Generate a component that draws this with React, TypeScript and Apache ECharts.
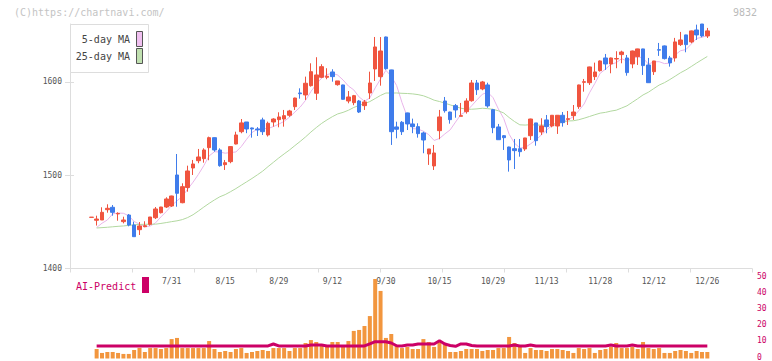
import React, { useEffect, useRef } from "react";
import * as echarts from "echarts";

// ---- data ----
const opens = [
  1454.8, 1451.7, 1452, 1463, 1465.6, 1458.5, 1450.2, 1457.3, 1446.6, 1441.6,
  1444.8, 1447.4, 1454.4, 1459.8, 1465.9, 1467, 1500.2, 1470.5, 1486.8, 1507.7,
  1515.5, 1517.7, 1529.5, 1540.2, 1527, 1511.3, 1514.5, 1533.4, 1546.6, 1557,
  1550.6, 1549.5, 1559.2, 1543.1, 1557, 1559.5, 1560.2, 1564.2, 1573.4, 1588.1,
  1586, 1595.9, 1587.8, 1604.9, 1604.9, 1610.6, 1597, 1596.7, 1579.5, 1577.7,
  1579.5, 1574.5, 1588.1, 1613.8, 1605.6, 1648.1, 1612.8, 1551.7, 1556.7, 1566.7,
  1554.9, 1552, 1545.2, 1522.7, 1509.9, 1547.7, 1579.5, 1567.7, 1574.5, 1563.1,
  1568.1, 1579.8, 1598.8, 1592.4, 1596.7, 1570.2, 1551.7, 1542.3, 1530.2, 1528.4,
  1528.4, 1528.1, 1542.3, 1556, 1546.3, 1559.2, 1552.7, 1552.7, 1564.2, 1559.8,
  1563.8, 1573.4, 1599.5, 1599.1, 1605.6, 1612, 1625.6, 1619.2, 1624.5, 1629.2,
  1625.6, 1619.2, 1627, 1635.3, 1618.1, 1610.9, 1634.5, 1638.5, 1625.6, 1625.6,
  1639.9, 1650.3, 1642.8, 1655.6, 1662, 1649.2,
];
const closes = [
  1455, 1453, 1460.2, 1464.5, 1460.2, 1459, 1452, 1446.6, 1434.1, 1445.6,
  1445.9, 1455.2, 1463.8, 1465.9, 1474.5, 1477.7, 1480.6, 1487.7, 1504.5, 1512,
  1519.5, 1527, 1540.2, 1527, 1510.2, 1513.4, 1530.6, 1543.1, 1556, 1549.5,
  1549.5, 1548.5, 1546.6, 1555.6, 1560.2, 1562.4, 1563.8, 1568.8, 1582.7, 1587.3,
  1598.5, 1610.9, 1607.4, 1616.3, 1606, 1605.6, 1601, 1581.3, 1583.8, 1585.2,
  1567.7, 1578.5, 1598.8, 1637.4, 1633.1, 1614.1, 1546.6, 1549.2, 1546.6, 1554.9,
  1552, 1544.5, 1537.7, 1528.1, 1523.8, 1562.4, 1569.1, 1559.5, 1569.9, 1563.8,
  1579.5, 1598.8, 1591.6, 1599.9, 1574.2, 1550.9, 1538, 1540.2, 1516.3, 1526.3,
  1525.2, 1539.9, 1560.2, 1537, 1552.7, 1552, 1564.2, 1564.2, 1556.3, 1560.5,
  1567.7, 1596.7, 1600.2, 1616, 1610.6, 1622.4, 1619.2, 1625.6, 1625, 1632,
  1609.9, 1633.1, 1635.3, 1617.4, 1599.1, 1622.4, 1634, 1624.9, 1620.3, 1642.8,
  1644.9, 1639.9, 1654.6, 1650.3, 1649.2, 1654.6,
];
const lows = [
  1454.8, 1446, 1452, 1459.8, 1456.6, 1451.2, 1448.4, 1445.2, 1434.1, 1435.9,
  1444.2, 1445.9, 1453, 1459, 1464.8, 1466, 1466.2, 1469.9, 1482.3, 1500.2,
  1512.8, 1513.4, 1516, 1525.2, 1509.1, 1505.6, 1512.8, 1533, 1544.9, 1545,
  1540.2, 1542, 1543.1, 1541.4, 1552, 1551.3, 1552, 1562.5, 1569.9, 1582,
  1580.6, 1594.9, 1580.6, 1604, 1602.8, 1600.2, 1595.9, 1581, 1577, 1575,
  1566.6, 1569.9, 1581.7, 1601, 1595.9, 1613, 1532.4, 1539.5, 1543.1, 1548.4,
  1545, 1540.2, 1523.5, 1511, 1505.6, 1538.5, 1567, 1555.2, 1561.6, 1563.1,
  1566, 1578.8, 1586, 1591, 1572.3, 1545, 1538, 1527, 1503.8, 1506.6,
  1519.8, 1526, 1537.7, 1531.6, 1543.1, 1544.9, 1551.3, 1544.2, 1552, 1553.8,
  1559.2, 1571, 1589.5, 1596.7, 1602, 1611, 1612.8, 1609.2, 1614.6, 1619.9,
  1606.6, 1614.6, 1618.1, 1607.4, 1599, 1607.4, 1627.8, 1624, 1616.3, 1621.7,
  1638.5, 1631.7, 1641.4, 1644.9, 1647.8, 1647,
];
const highs = [
  1455, 1456.6, 1465.6, 1468.8, 1468, 1460.2, 1455.5, 1458.4, 1450.2, 1449.8,
  1450.6, 1455.2, 1465.9, 1466, 1476.3, 1478, 1522.7, 1491.3, 1510.2, 1516.3,
  1528.1, 1528.8, 1541.3, 1540.5, 1528.8, 1516.3, 1531, 1546.6, 1560.2, 1557,
  1551, 1551.5, 1561.6, 1557.4, 1561, 1567.4, 1569.9, 1570, 1583, 1593.1,
  1605.6, 1619.9, 1626.4, 1618.9, 1614.6, 1613.5, 1601, 1597, 1590.2, 1586,
  1580.6, 1580.6, 1610.9, 1648.1, 1648, 1648.5, 1613, 1557.3, 1558, 1567,
  1560.6, 1555.6, 1546.6, 1528.1, 1532.4, 1569.9, 1583.8, 1568, 1576.3, 1577.4,
  1582.4, 1602, 1602, 1601, 1599.1, 1571, 1554.9, 1543, 1530.5, 1538.8,
  1538.8, 1540, 1560.5, 1556, 1561, 1564.5, 1564.5, 1564.5, 1567.7, 1568.8,
  1575.2, 1597, 1603.1, 1616.3, 1620.6, 1623, 1629.9, 1626, 1632.8, 1633.4,
  1628.8, 1633.5, 1635.5, 1635.5, 1625.6, 1622.5, 1641.7, 1639, 1627.8, 1647.1,
  1653.5, 1650.5, 1655, 1661.3, 1662, 1657.8,
];
const volumes = [
  null, 5.8, 3.4, 4.0, 4.0, 3.4, 2.8, 2.8, 5.2, 6.5,
  4.0, 6.4, 6.4, 5.8, 6.4, 11.9, 12.6, 6.4, 6.4, 6.4,
  6.4, 6.4, 10.7, 5.8, 4.0, 4.6, 4.0, 5.8, 6.4, 3.4,
  4.0, 4.6, 5.2, 4.6, 6.4, 6.4, 6.4, 4.6, 6.4, 6.4,
  9.5, 11.3, 10.1, 8.3, 7.1, 10.1, 10.1, 7.1, 10.7, 16.9,
  17.5, 19.9, 26, 48.7, 41.4, 12.6, 15, 8.3, 6.4, 7.1,
  5.8, 5.8, 11.9, 10.1, 7.1, 10.7, 8.9, 4.0, 4.0, 4.6,
  5.8, 5.8, 5.8, 4.6, 5.2, 5.2, 6.4, 6.4, 13.2, 9.5,
  7.1, 3.4, 6.4, 5.2, 5.2, 4.6, 5.8, 5.8, 5.2, 4.6,
  3.4, 6.4, 5.8, 6.4, 3.4, 5.2, 5.8, 7.1, 9.5, 6.4,
  6.4, 7.1, 5.8, 10.1, 6.4, 5.8, 6.4, 3.4, 3.4, 4.6,
  5.2, 4.6, 3.4, 4.6, 4.0, 4.0,
];
const aiPredict = [
  null, 7.7, 7.7, 7.7, 7.7, 7.7, 7.7, 7.7, 7.7, 7.7,
  7.7, 7.7, 7.7, 7.7, 7.7, 7.7, 7.7, 7.7, 7.7, 7.7,
  7.7, 7.7, 7.7, 7.7, 7.7, 7.7, 7.7, 7.7, 7.7, 7.7,
  7.7, 7.7, 7.7, 7.7, 8.9, 7.7, 7.7, 7.7, 7.7, 7.7,
  7.7, 8.3, 8.3, 8.3, 7.7, 7.7, 7.7, 7.7, 7.7, 7.7,
  7.7, 7.7, 9.0, 10.3, 10.3, 10.3, 9.5, 7.8, 7.7, 8.3,
  8.3, 8.9, 8.9, 8.9, 8.9, 10.9, 8.9, 8.0, 7.5, 8.9,
  8.9, 8.0, 7.7, 7.7, 7.7, 7.7, 7.7, 7.7, 7.7, 8.3,
  7.7, 7.7, 8.3, 7.7, 7.7, 7.7, 7.7, 7.7, 7.7, 7.7,
  7.7, 7.7, 7.7, 7.7, 7.7, 7.7, 7.7, 8.3, 7.7, 7.7,
  7.7, 8.3, 7.7, 7.7, 7.7, 7.7, 7.7, 7.7, 7.7, 7.7,
  7.7, 7.7, 7.7, 7.7, 7.7, 7.7,
];
// moving-average values before enough closes exist
const ma5Head = [null, 1444, 1448.5, 1452];
const ma25Head = [
  null, 1443.4, 1443.8, 1444.2, 1444.7, 1445.2, 1445.6, 1446.2, 1446.8, 1447.2,
  1447.4, 1447.4, 1447.5, 1448.3, 1449.2, 1450.2, 1451.1, 1452.4, 1454.6, 1457.6,
  1461.6, 1465.8, 1469.8, 1473.5,
];
const dateLabels = ["7/31", "8/15", "8/29", "9/12", "9/30", "10/15", "10/29", "11/13", "11/28", "12/12", "12/26"];
const firstLabelIndex = 15;
const labelStep = 10;
const priceTicks = [1400, 1500, 1600];
const volumeTicks = [0, 10, 20, 30, 40, 50];

function movingAverage(period: number, head: (number | null)[]) {
  return closes.map((_, i) => {
    if (i < head.length) return head[i];
    let s = 0;
    for (let k = i - period + 1; k <= i; k++) s += closes[k];
    return +(s / period).toFixed(2);
  });
}

const MONO = '"DejaVu Sans Mono", "Liberation Mono", monospace';
const RED = "#F0543F";
const BLUE = "#3F7CEB";
const AXIS = "#DDDDDD";
const MAGENTA = "#CC0066";

export default function App() {
  const ref = useRef<HTMLDivElement>(null);
  useEffect(() => {
    if (!ref.current) return;
    const chart = echarts.init(ref.current, null, { renderer: "svg" });
    const categories = closes.map((_, i) => {
      const k = (i - firstLabelIndex) / labelStep;
      return i >= firstLabelIndex && Number.isInteger(k) && dateLabels[k] ? dateLabels[k] : "c" + i;
    });
    const isLabel = (i: number) => i >= firstLabelIndex && (i - firstLabelIndex) % labelStep === 0;
    const ma5 = movingAverage(5, ma5Head);
    const ma25 = movingAverage(25, ma25Head);
    const candleData = opens.map((o, i) => [o, closes[i], lows[i], highs[i]]);

    const plotLeft = 88.6;
    const plotWidth = 621.4;
    const mainTop = 24;
    const mainHeight = 244.5;
    const volTop = 276.9;
    const volHeight = 81.6;
    const plain = (v: number) => String(v);

    chart.setOption({
      animation: false,
      backgroundColor: "#ffffff",
      grid: [
        { left: plotLeft, top: mainTop, width: plotWidth, height: mainHeight },
        { left: 70, top: mainTop, width: 682, height: mainHeight },
        { left: plotLeft, top: volTop, width: plotWidth, height: volHeight },
        { left: 70, top: volTop, width: 682, height: volHeight },
      ],
      xAxis: [
        {
          type: "category",
          gridIndex: 0,
          data: categories,
          boundaryGap: true,
          axisLine: { show: false },
          axisTick: { show: false },
          splitLine: { show: false },
          axisLabel: {
            interval: (i: number) => isLabel(i),
            margin: 9,
            fontSize: 8,
            fontFamily: MONO,
            color: "#555555",
          },
        },
        {
          type: "value",
          gridIndex: 1,
          min: 0,
          max: 11,
          interval: 1,
          axisLine: { show: true, lineStyle: { color: AXIS, width: 1 } },
          axisTick: { show: true, length: 4, lineStyle: { color: AXIS } },
          axisLabel: { show: false },
          splitLine: { show: false },
        },
        {
          type: "category",
          gridIndex: 2,
          data: categories,
          boundaryGap: true,
          show: false,
        },
        {
          type: "value",
          gridIndex: 3,
          min: 0,
          max: 1,
          show: false,
        },
      ],
      yAxis: [
        { type: "value", gridIndex: 0, min: 1400, max: 1662, show: false, splitLine: { show: false } },
        {
          type: "value",
          gridIndex: 1,
          position: "left",
          min: 1400,
          max: 1662,
          axisLine: { show: true, lineStyle: { color: AXIS, width: 1 } },
          axisTick: { show: true, length: 5, lineStyle: { color: AXIS }, customValues: priceTicks },
          axisLabel: { fontSize: 8, fontFamily: MONO, color: "#555555", margin: 8, customValues: priceTicks, formatter: plain },
          splitLine: { show: false },
        },
        { type: "value", gridIndex: 2, min: 0, max: 50, show: false, splitLine: { show: false } },
        {
          type: "value",
          gridIndex: 3,
          position: "right",
          min: 0,
          max: 50,
          interval: 10,
          axisLine: { show: false },
          axisTick: { show: false },
          splitLine: { show: false },
          axisLabel: { fontSize: 8, fontFamily: MONO, color: MAGENTA, margin: 5, customValues: volumeTicks, formatter: plain },
        },
        {
          type: "value",
          gridIndex: 1,
          position: "left",
          min: 1400,
          max: 1662,
          axisLine: { show: false },
          axisTick: { show: true, inside: true, length: 4, lineStyle: { color: AXIS }, customValues: priceTicks },
          axisLabel: { show: false },
          splitLine: { show: false },
        },
      ],
      series: [
        {
          type: "candlestick",
          xAxisIndex: 0,
          yAxisIndex: 0,
          data: candleData,
          barWidth: 4,
          itemStyle: { color: RED, color0: BLUE, borderColor: RED, borderColor0: BLUE, borderWidth: 1 },
          silent: true,
        },
        {
          type: "line",
          name: "5-day MA",
          xAxisIndex: 0,
          yAxisIndex: 0,
          data: ma5,
          showSymbol: false,
          lineStyle: { width: 1, color: "#E9B5EA" },
          silent: true,
          z: 1,
        },
        {
          type: "line",
          name: "25-day MA",
          xAxisIndex: 0,
          yAxisIndex: 0,
          data: ma25,
          showSymbol: false,
          lineStyle: { width: 1, color: "#B2D8A0" },
          silent: true,
          z: 1,
        },
        {
          type: "bar",
          xAxisIndex: 2,
          yAxisIndex: 2,
          data: volumes,
          barWidth: 4,
          itemStyle: { color: "#F2963E" },
          silent: true,
        },
        {
          type: "line",
          name: "AI-Predict",
          xAxisIndex: 2,
          yAxisIndex: 2,
          data: aiPredict,
          showSymbol: false,
          lineStyle: { width: 3, color: MAGENTA },
          silent: true,
          z: 3,
        },
      ],
      graphic: [
        {
          type: "text",
          left: 14,
          top: 7,
          style: { text: "(C)https://chartnavi.com/", font: `10px ${MONO}`, fill: "#C4C4C4" },
        },
        {
          type: "text",
          left: 733,
          top: 7,
          style: { text: "9832", font: `10px ${MONO}`, fill: "#BBBBBB" },
        },
        {
          type: "rect",
          shape: { x: 70.5, y: 24.5, width: 78, height: 48 },
          style: { fill: "#ffffff", stroke: AXIS, lineWidth: 1 },
          z: 100,
        },
        {
          type: "text",
          x: 130,
          y: 39.5,
          style: { text: "5-day MA", font: `10px ${MONO}`, fill: "#444444", align: "right", verticalAlign: "middle" },
          z: 101,
        },
        {
          type: "text",
          x: 130,
          y: 56.5,
          style: { text: "25-day MA", font: `10px ${MONO}`, fill: "#444444", align: "right", verticalAlign: "middle" },
          z: 101,
        },
        {
          type: "rect",
          shape: { x: 136.5, y: 31.5, width: 6, height: 15 },
          style: { fill: "#F0C0F0", stroke: "#555555", lineWidth: 1 },
          z: 101,
        },
        {
          type: "rect",
          shape: { x: 136.5, y: 48.5, width: 6, height: 15 },
          style: { fill: "#C0E0B0", stroke: "#555555", lineWidth: 1 },
          z: 101,
        },
        {
          type: "text",
          x: 76,
          y: 286,
          style: { text: "AI-Predict", font: `10px ${MONO}`, fill: MAGENTA, verticalAlign: "middle" },
          z: 101,
        },
        {
          type: "rect",
          shape: { x: 142, y: 277, width: 7, height: 16 },
          style: { fill: MAGENTA },
          z: 101,
        },
      ],
    });
    return () => chart.dispose();
  }, []);
  return (
    <div
      ref={ref}
      style={{ position: "absolute", left: 0, top: 0, width: 772, height: 361, background: "#fff" }}
    />
  );
}
